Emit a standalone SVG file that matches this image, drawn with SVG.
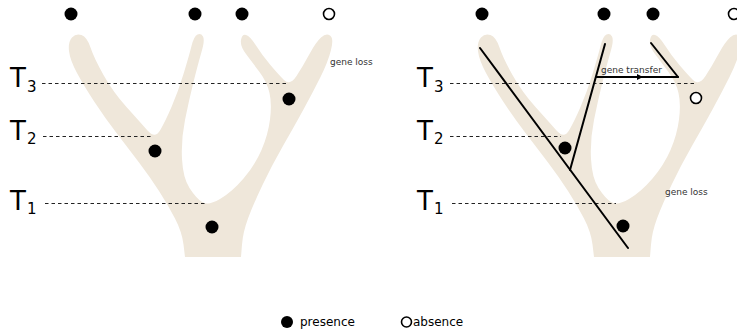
<svg xmlns="http://www.w3.org/2000/svg" xmlns:xlink="http://www.w3.org/1999/xlink" width="737" height="331" viewBox="0 0 737 331">
<style>
.tree{fill:#efe7da;}
.dash{stroke:#222;stroke-width:1;stroke-dasharray:3.5 3;fill:none;}
.dot{fill:#000;}
.hol{fill:#fff;stroke:#000;stroke-width:1.6;}
.lbl{font-family:"DejaVu Sans","Liberation Sans",sans-serif;fill:#000;}
.big{font-size:26px;}
.sub{font-size:15px;}
.small{font-family:"DejaVu Sans","Liberation Sans",sans-serif;font-size:9px;fill:#333;}
.leg{font-family:"DejaVu Sans","Liberation Sans",sans-serif;font-size:12px;fill:#000;}
.line{stroke:#000;stroke-width:2;fill:none;stroke-linecap:round;}
</style>
<defs>
<marker id="arr" viewBox="0 0 10 10" refX="10" refY="5" markerWidth="7" markerHeight="6" markerUnits="userSpaceOnUse" orient="auto">
<path d="M0,0 L10,5 L0,10 Z" fill="#000"/>
</marker>
<path id="treeShape" class="tree" d="M185,257 L183.5,244.5 Q182,232 175,218.5 Q168,205 159,191 Q150,177 139,162.5 Q128,148 116.5,133 Q105,118 94.5,102 Q84,86 77,73 Q70,60 69,51 Q68,42 72,37.5 Q76,33 81.5,35 Q87,37 90.5,47.5 Q94,58 103.5,75 Q113,92 126.5,107 Q140,122 147.5,130.5 Q155,139 160,130.5 Q165,122 171.5,107 Q178,92 183.5,74 Q189,56 191.5,46 Q194,36 197.5,34.5 Q201,33 203,36.5 Q205,40 201.5,52 Q198,64 193.5,82 Q189,100 185,120 Q181,140 182,159 Q183,178 189.5,188 Q196,198 202,202 Q208,206 220,199 Q232,192 243.5,178.5 Q255,165 261.5,150 Q268,135 270,119.5 Q272,104 269.5,93 Q267,82 259.5,72 Q252,62 246,54 Q240,46 241,40 Q242,34 246,35 Q250,36 256,45.5 Q262,55 270,64.5 Q278,74 284,80 Q290,86 296.5,76 Q303,66 309.5,54 Q316,42 321,37.5 Q326,33 330,35.5 Q334,38 331,50 Q328,62 320.5,77 Q313,92 304,108.5 Q295,125 283.5,145 Q272,165 262.5,185 Q253,205 248,218.5 Q243,232 242,244.5 L241,257 Z"/>
</defs>

<g id="left-panel">
<use xlink:href="#treeShape" href="#treeShape"/>
<g id="left-time-lines">
<line class="dash" x1="42" y1="83.5" x2="288" y2="83.5"/>
<line class="dash" x1="43" y1="136.5" x2="153" y2="136.5"/>
<line class="dash" x1="45" y1="203.5" x2="207" y2="203.5"/>
</g>
<g id="left-T3"><text class="lbl big" x="10" y="87">T</text><text class="lbl sub" x="27" y="92">3</text></g>
<g id="left-T2"><text class="lbl big" x="10" y="140">T</text><text class="lbl sub" x="27" y="144">2</text></g>
<g id="left-T1"><text class="lbl big" x="10" y="210">T</text><text class="lbl sub" x="27" y="214">1</text></g>
<text id="left-gene-loss" class="small" x="330" y="65">gene loss</text>
<g id="left-leaf-1"><circle class="dot" cx="71" cy="14" r="6.5"/></g>
<g id="left-leaf-2"><circle class="dot" cx="195" cy="14" r="6.5"/></g>
<g id="left-leaf-3"><circle class="dot" cx="242" cy="14" r="6.5"/></g>
<g id="left-leaf-4"><circle class="hol" cx="329" cy="14" r="5.5"/></g>
<g id="left-node-T3"><circle class="dot" cx="289" cy="99" r="6.5"/></g>
<g id="left-node-T2"><circle class="dot" cx="155" cy="151" r="6.5"/></g>
<g id="left-node-T1"><circle class="dot" cx="212" cy="227" r="6.5"/></g>
</g>

<g id="right-panel">
<use xlink:href="#treeShape" href="#treeShape" transform="translate(409,0)"/>
<g id="right-time-lines">
<line class="dash" x1="450" y1="83.5" x2="697" y2="83.5"/>
<line class="dash" x1="450" y1="136.5" x2="561" y2="136.5"/>
<line class="dash" x1="452" y1="203.5" x2="616" y2="203.5"/>
</g>
<g id="right-T3"><text class="lbl big" x="417" y="87">T</text><text class="lbl sub" x="434" y="92">3</text></g>
<g id="right-T2"><text class="lbl big" x="417" y="140">T</text><text class="lbl sub" x="434" y="144">2</text></g>
<g id="right-T1"><text class="lbl big" x="417" y="210">T</text><text class="lbl sub" x="434" y="214">1</text></g>
<text id="right-gene-loss" class="small" x="665" y="195">gene loss</text>
<text id="gene-transfer-label" class="small" x="601" y="73">gene transfer</text>
<g id="connectors">
<line class="line" x1="480" y1="48" x2="628" y2="248"/>
<line class="line" x1="605" y1="44" x2="570" y2="170"/>
<line class="line" x1="651" y1="43" x2="678" y2="77"/>
<path class="line" d="M596,77 L643,77 L678,77" marker-mid="url(#arr)"/>
</g>
<g id="right-leaf-1"><circle class="dot" cx="482" cy="14" r="6.5"/></g>
<g id="right-leaf-2"><circle class="dot" cx="604" cy="14" r="6.5"/></g>
<g id="right-leaf-3"><circle class="dot" cx="653" cy="14" r="6.5"/></g>
<g id="right-leaf-4"><circle class="hol" cx="734" cy="14" r="5.5"/></g>
<g id="right-node-T3"><circle class="hol" cx="696" cy="98" r="5.5"/></g>
<g id="right-node-T2"><circle class="dot" cx="565" cy="148" r="6.5"/></g>
<g id="right-node-T1"><circle class="dot" cx="623" cy="226" r="6.5"/></g>
</g>

<g id="legend">
<g id="legend-presence"><circle class="dot" cx="287" cy="322" r="6"/><text class="leg" x="300" y="326">presence</text></g>
<g id="legend-absence"><circle class="hol" cx="406.5" cy="322" r="5"/><text class="leg" x="413" y="326">absence</text></g>
</g>
</svg>
